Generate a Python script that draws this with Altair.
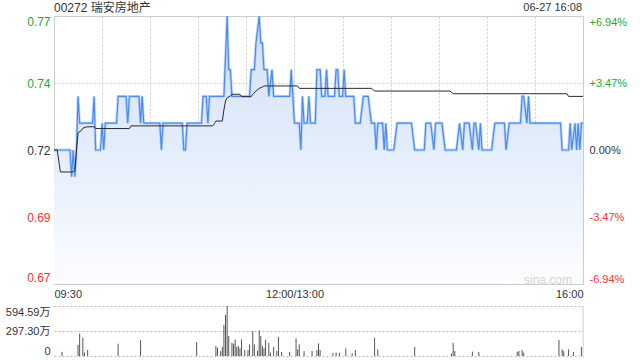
import altair as alt
import pandas as pd

# ---- data ----
price_t = [0, 10, 11, 12, 13, 14, 15, 16, 24, 25, 26, 29, 30, 31, 32, 39, 40, 45, 46, 47, 53, 54, 55, 56, 66, 67, 68,
           80, 81, 82, 83, 92, 93, 95, 96, 97, 106, 108, 109, 110, 111, 122, 123, 125, 126, 128, 129, 130, 131, 133,
           134, 136, 137, 147, 148, 149, 150, 153, 154, 155, 156, 158, 159, 160, 163, 164, 166, 167, 169, 170, 171,
           175, 176, 177, 178, 180, 181, 182, 187, 188, 191, 193, 196, 198, 200, 201, 202, 205, 206, 207, 208, 212,
           214, 223, 225, 231, 232, 235, 237, 238, 242, 244, 251, 253, 255, 256, 259, 261, 262, 263, 265, 266, 267,
           273, 275, 281, 282, 284, 291, 292, 293, 295, 296, 297, 316, 317, 321, 322, 323, 325, 326, 327, 328, 329, 330]
price_v = [0.72, 0.72, 0.71, 0.72, 0.71, 0.72, 0.74, 0.73, 0.73, 0.74, 0.72, 0.72, 0.73, 0.72, 0.73, 0.73, 0.74, 0.74,
           0.73, 0.74, 0.74, 0.73, 0.74, 0.73, 0.73, 0.72, 0.73,
           0.73, 0.72, 0.72, 0.73, 0.73, 0.74, 0.74, 0.73, 0.74, 0.74, 0.77, 0.75, 0.75, 0.74, 0.74, 0.75, 0.75, 0.76,
           0.77, 0.76, 0.76, 0.75, 0.75,
           0.74, 0.75, 0.74, 0.74, 0.75, 0.74, 0.73, 0.73, 0.72, 0.74, 0.73, 0.73, 0.74, 0.73, 0.73, 0.75, 0.75, 0.74,
           0.74, 0.75, 0.74,
           0.74, 0.75, 0.75, 0.74, 0.74, 0.75, 0.74, 0.74, 0.73, 0.73, 0.74, 0.74, 0.73, 0.73, 0.72, 0.73, 0.73, 0.72,
           0.73, 0.72, 0.72,
           0.73, 0.73, 0.72, 0.72, 0.73, 0.73, 0.72, 0.73, 0.73, 0.72, 0.72, 0.73, 0.72, 0.73, 0.73, 0.72, 0.73, 0.73,
           0.72, 0.73, 0.72,
           0.72, 0.73, 0.73, 0.72, 0.73, 0.73, 0.74, 0.74, 0.73, 0.74, 0.73, 0.73, 0.72, 0.72, 0.73, 0.72, 0.73, 0.72,
           0.73, 0.72, 0.73, 0.73]

avg_t = [0, 2, 4, 12, 13, 15, 17, 18, 20, 25, 26, 47, 48, 99, 100, 101, 105, 106, 107, 108, 110, 111, 116, 117, 123,
         124, 126, 128, 130, 131, 152, 153, 198, 200, 247, 249, 320, 321, 330]
avg_v = [0.720, 0.720, 0.7118, 0.7118, 0.7125, 0.7265, 0.7272, 0.7281, 0.7286, 0.7287, 0.7280, 0.7280, 0.7290,
         0.7290, 0.7298, 0.7308, 0.7308, 0.7350, 0.7383, 0.7395, 0.7401, 0.7408, 0.7408, 0.7399, 0.7399, 0.7408,
         0.7420, 0.7430, 0.7435, 0.7439, 0.7439, 0.7430, 0.7430, 0.7420, 0.7420, 0.7410, 0.7410, 0.7400, 0.7400]

vol_t = [5, 15, 16, 18, 19, 21, 40, 54, 89, 101, 102, 104, 105, 106, 107, 108, 109, 111, 112, 113, 114, 115, 116,
         117, 119, 121, 122, 124, 125, 127, 128, 129, 130, 131, 132, 134, 135, 137, 139, 140, 142, 147, 151, 152,
         153, 156, 161, 164, 165, 166, 174, 176, 178, 182, 186, 188, 200, 202, 225, 248, 249, 250, 261, 265, 289,
         290, 292, 293, 315, 317, 318, 321, 324, 329]
vol_v = [48, 131, 265, 218, 40, 71, 146, 190, 166, 119, 99, 59, 107, 369, 487, 594.59, 238, 158, 146, 198, 107, 119,
         91, 198, 71, 71, 139, 297, 139, 67, 305, 238, 119, 91, 190, 158, 40, 107, 59, 226, 48, 48, 210, 79,
         139, 59, 59, 71, 150, 71, 36, 40, 40, 91, 32, 71, 218, 79, 107, 28, 158, 59, 52, 48, 48,
         59, 71, 40, 190, 79, 59, 79, 48, 107]

title_text = ["00272 瑞安房地产"]
time_text = ["06-27 16:08"]
watermark = ["sina.com"]

y_ticks = [0.67, 0.695, 0.72, 0.745, 0.77]
y_labels = ["0.67", "0.69", "0.72", "0.74", "0.77"]
pct_labels = ["-6.94%", "-3.47%", "0.00%", "+3.47%", "+6.94%"]
x_ticks = [0, 30, 60, 90, 120, 150, 180, 210, 240, 270, 300, 330]
x_label_pos = [0, 150, 330]
x_labels = ["09:30", "12:00/13:00", "16:00"]
vol_ticks = [0, 297.295, 594.59]
vol_labels = ["0", "297.30万", "594.59万"]

FONT = "Liberation Sans, Arial, Noto Sans CJK SC, sans-serif"
GREEN = "#1fa81f"
RED = "#f03535"
DARK = "#333333"


def label_expr(vals, labels, tol):
    parts = [f"abs(datum.value - {v}) < {tol} ? '{l}'" for v, l in zip(vals, labels)]
    return " : ".join(parts) + " : ''"


color_cond = {"condition": [{"test": "datum.value > 0.7201", "value": GREEN},
                            {"test": "datum.value < 0.7199", "value": RED}],
              "value": DARK}

price_df = pd.DataFrame({"t": price_t, "p": price_v})
avg_df = pd.DataFrame({"t": avg_t, "a": avg_v})
vol_df = pd.DataFrame({"t": vol_t, "v": vol_v})

xscale = alt.Scale(domain=[0, 330], nice=False, zero=False)
yscale = alt.Scale(domain=[0.67, 0.77], nice=False, zero=False)

x_axis = alt.Axis(values=x_ticks, labelExpr=label_expr(x_label_pos, x_labels, 0.01), grid=True,
                  gridDash=[2, 2], gridColor="#cccccc", domain=False, ticks=False, labelFlush=True,
                  labelOverlap=False, labelPadding=4, labelFontSize=11, labelColor=DARK, labelFont=FONT,
                  title=None)
y_left = alt.Axis(values=y_ticks, labelExpr=label_expr(y_ticks, y_labels, 1e-6), orient="left", grid=True,
                  gridDash=[2, 2], gridColor="#cccccc", domain=False, ticks=False, labelFlush=True,
                  labelOverlap=False, labelPadding=4, labelFontSize=12, labelFont=FONT, labelColor=color_cond,
                  title=None)
y_right = alt.Axis(values=y_ticks, labelExpr=label_expr(y_ticks, pct_labels, 1e-6), orient="right", grid=False,
                   domain=False, ticks=False, labelFlush=True, labelOverlap=False, labelPadding=6,
                   labelFontSize=11, labelFont=FONT, labelColor=color_cond, title=None)

area = alt.Chart(price_df).mark_area(
    interpolate="linear",
    color=alt.Gradient(gradient="linear",
                       stops=[alt.GradientStop(color="#d1e0f7", offset=0),
                              alt.GradientStop(color="#e4edfb", offset=0.5),
                              alt.GradientStop(color="#fcfdff", offset=1)],
                       x1=1, x2=1, y1=0, y2=1)
).encode(x=alt.X("t:Q", scale=xscale, axis=x_axis),
         y=alt.Y("p:Q", scale=yscale, axis=y_left),
         y2=alt.datum(0.67))

halo = alt.Chart(price_df).mark_line(color="#a8c6f3", strokeWidth=2.8, opacity=0.7).encode(
    x="t:Q", y=alt.Y("p:Q", axis=y_right))
line = alt.Chart(price_df).mark_line(color="#4a8bef", strokeWidth=1.2).encode(
    x="t:Q", y=alt.Y("p:Q", axis=None))
avg = alt.Chart(avg_df).mark_line(color="#2b2b2b", strokeWidth=1).encode(
    x="t:Q", y=alt.Y("a:Q", axis=None))

title_mark = alt.Chart(pd.DataFrame({"s": title_text})).mark_text(
    align="left", baseline="middle", fontSize=12, font=FONT, color=DARK
).encode(x=alt.value(0), y=alt.value(-8), text="s:N")
time_mark = alt.Chart(pd.DataFrame({"s": time_text})).mark_text(
    align="right", baseline="middle", fontSize=11, font=FONT, color=DARK
).encode(x=alt.value(528), y=alt.value(-8), text="s:N")
wm_mark = alt.Chart(pd.DataFrame({"s": watermark})).mark_text(
    align="right", baseline="middle", fontSize=12, font=FONT, color="#d4d4d4"
).encode(x=alt.value(518), y=alt.value(264), text="s:N")

top = alt.layer(area, halo, line, avg, title_mark, time_mark, wm_mark).resolve_axis(
    y="independent").properties(width=529, height=268)

vol_axis = alt.Axis(values=vol_ticks, labelExpr=label_expr(vol_ticks, vol_labels, 0.01), orient="left",
                    grid=True, gridDash=[2, 2], gridColor="#bbbbbb", domain=False, ticks=False,
                    labelFlush=True, labelOverlap=False, labelPadding=4, labelFontSize=11, labelFont=FONT,
                    labelColor=DARK, title=None)
bars = alt.Chart(vol_df).mark_rule(color="#555555", strokeWidth=1).encode(
    x=alt.X("t:Q", scale=xscale, axis=None),
    y=alt.Y("v:Q", scale=alt.Scale(domain=[0, 594.59], nice=False), axis=vol_axis),
    y2=alt.datum(0))
border = alt.Chart(pd.DataFrame({"s": title_text})).mark_rule(color="#cccccc").encode(
    x=alt.value(529), y=alt.value(0), y2=alt.value(50))
bottom = alt.layer(bars, border).properties(width=529, height=50,
                                            view=alt.ViewBackground(strokeOpacity=0))

chart = alt.vconcat(top, bottom, spacing=22, bounds="flush").properties(
    padding={"left": 5, "top": 1, "right": 5, "bottom": 0}, background="white"
).configure_view(stroke="#cccccc", strokeWidth=1)

chart.save("out.html", embed_options={"renderer": "svg", "actions": False})
